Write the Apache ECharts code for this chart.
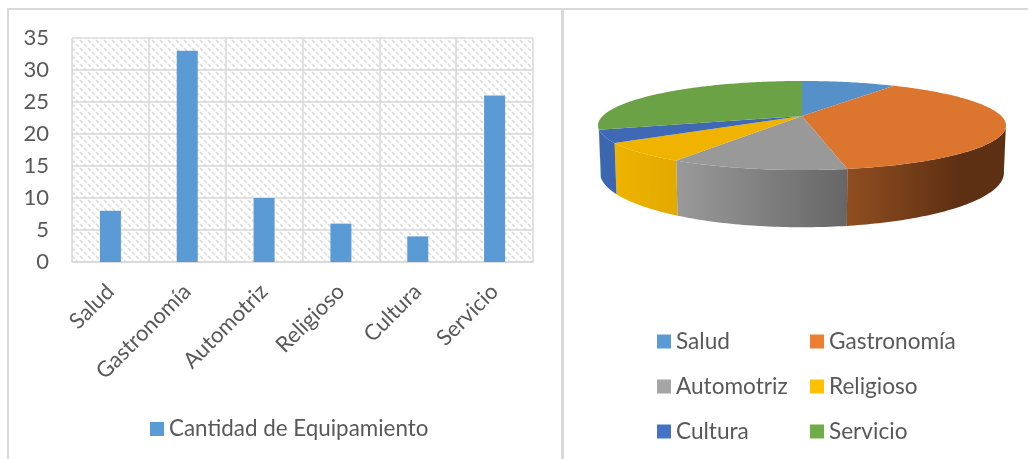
<!DOCTYPE html>
<html>
<head>
<meta charset="utf-8">
<style>html,body{margin:0;padding:0;background:#fff}#c{width:1028px;height:459px}</style>
<script src="https://cdn.jsdelivr.net/npm/echarts@6/dist/echarts.min.js"></script>
</head>
<body>
<div id="c"></div>
<script>
const categories = ['Salud', 'Gastronomía', 'Automotriz', 'Religioso', 'Cultura', 'Servicio'];
const values = [8, 33, 10, 6, 4, 26];
const seriesName = 'Cantidad de Equipamiento';
const yTicks = { min: 0, max: 35, interval: 5 };

const legendColors = ['#5b9bd5', '#ed7d31', '#a5a5a5', '#ffc000', '#4472c4', '#70ad47'];
const topColors = ['#5591c8', '#dc752e', '#999999', '#efb300', '#3f69b5', '#6aa245'];
const sideStops = [
  [[0, '#4a7bab'], [1, '#4a7bab']],
  [[0, '#914e20'], [0.7, '#5e3013'], [1, '#5e3013']],
  [[0, '#9a9a9a'], [1, '#666666']],
  [[0, '#efb400'], [1, '#e2a900']],
  [[0, '#3d66b0'], [1, '#3d66b0']],
  [[0, '#5a8a3a'], [1, '#5a8a3a']]
];
const textColor = '#595959';
const font = 'Lato';
const gridColor = '#d9d9d9';

// 3D pie projection
const P = { cx: 802, cy: 116, R: 199.3, Ry: 42.5, persp: 0.2135, depth: 45, bottomScale: 0.99, sideFrom: 101, sideTo: 253 };
function project(deg, bottom) {
  const t = deg * Math.PI / 180, u = Math.sin(t), v = -Math.cos(t), w = 1 - P.persp * v;
  return [
    P.cx + (bottom ? P.bottomScale : 1) * P.R * u / w,
    P.cy + P.Ry * v / w + (bottom ? P.depth / w : 0)
  ];
}
const total = values.reduce((a, b) => a + b, 0);

function renderSlice(idx) {
  return function (params, api) {
    const a0 = api.value(0) / total * 360, a1 = (api.value(0) + api.value(1)) / total * 360;
    const topPts = [[P.cx, P.cy]];
    for (let a = a0; a < a1; a += 1) topPts.push(project(a));
    topPts.push(project(a1));
    const children = [];
    const s0 = Math.max(a0, P.sideFrom), s1 = Math.min(a1, P.sideTo);
    if (s1 > s0) {
      const upper = [], lower = [];
      for (let a = s0; a < s1; a += 1) { upper.push(project(a)); lower.push(project(a, true)); }
      upper.push(project(s1)); lower.push(project(s1, true));
      children.push({
        type: 'polygon', z2: 1,
        shape: { points: upper.concat(lower.reverse()) },
        style: { fill: new echarts.graphic.LinearGradient(0, 0, 1, 0,
          sideStops[idx].map(s => ({ offset: s[0], color: s[1] }))) }
      });
    }
    children.push({ type: 'polygon', z2: 2, shape: { points: topPts }, style: { fill: topColors[idx] } });
    return { type: 'group', children };
  };
}

function hatch() {
  const c = document.createElement('canvas');
  c.width = c.height = 8;
  const g = c.getContext('2d');
  g.strokeStyle = '#dedede';
  g.lineWidth = 1.7;
  g.setLineDash([4, 1.657]);
  [[-8, -8, 16, 16], [-8, 0, 8, 16], [0, -8, 16, 8]].forEach(l => {
    g.beginPath(); g.moveTo(l[0], l[1]); g.lineTo(l[2], l[3]); g.stroke();
  });
  return c;
}

let start = 0;
const pieSeries = categories.map((name, i) => {
  const s = {
    type: 'custom', name, coordinateSystem: 'none', silent: true,
    itemStyle: { color: legendColors[i] },
    renderItem: renderSlice(i),
    data: [[start, values[i]]], z: 3
  };
  start += values[i];
  return s;
});

const legendBase = {
  orient: 'vertical', icon: 'rect', itemWidth: 14, itemHeight: 14, itemGap: 22, selectedMode: false,
  padding: 0, height: 125, width: 160,
  textStyle: { color: textColor, fontFamily: font, fontSize: 22.6, height: 18, lineHeight: 18 }
};

const chart = echarts.init(document.getElementById('c'), null, { renderer: 'canvas' });
chart.setOption({
  animation: false,
  backgroundColor: '#ffffff',
  graphic: { elements: [
    { type: 'rect', silent: true, shape: { x: 7, y: 8, width: 1021, height: 2 }, style: { fill: gridColor } },
    { type: 'rect', silent: true, shape: { x: 7, y: 8, width: 2, height: 451 }, style: { fill: gridColor } },
    { type: 'rect', silent: true, shape: { x: 561, y: 8, width: 3, height: 451 }, style: { fill: gridColor } }
  ] },
  grid: { left: 72, top: 38, width: 461, height: 224, show: true, borderWidth: 0,
    backgroundColor: { image: hatch(), repeat: 'repeat' } },
  xAxis: {
    type: 'category', data: categories,
    axisLine: { lineStyle: { color: gridColor, width: 1.5 } },
    axisTick: { show: false },
    splitLine: { show: true, interval: 0, lineStyle: { color: gridColor, width: 1.5 } },
    axisLabel: { interval: 0, rotate: 45, margin: 26, color: textColor, fontFamily: font, fontSize: 22 }
  },
  yAxis: {
    type: 'value', min: yTicks.min, max: yTicks.max, interval: yTicks.interval,
    axisLine: { show: false }, axisTick: { show: false },
    splitLine: { lineStyle: { color: gridColor, width: 1.5 } },
    axisLabel: { margin: 23, color: textColor, fontFamily: font, fontSize: 22 }
  },
  legend: [
    { left: 150, top: 418, padding: 0, icon: 'rect', itemWidth: 14, itemHeight: 14, selectedMode: false, data: [seriesName],
      textStyle: { color: textColor, fontFamily: font, fontSize: 22.4, height: 18, lineHeight: 18 } },
    Object.assign({}, legendBase, { left: 657, top: 330, data: [categories[0], categories[2], categories[4]] }),
    Object.assign({}, legendBase, { left: 810, top: 330, data: [categories[1], categories[3], categories[5]] })
  ],
  series: [
    { type: 'bar', name: seriesName, data: values, barWidth: 21, itemStyle: { color: legendColors[0] }, z: 2 }
  ].concat(pieSeries)
});
</script>
</body>
</html>
